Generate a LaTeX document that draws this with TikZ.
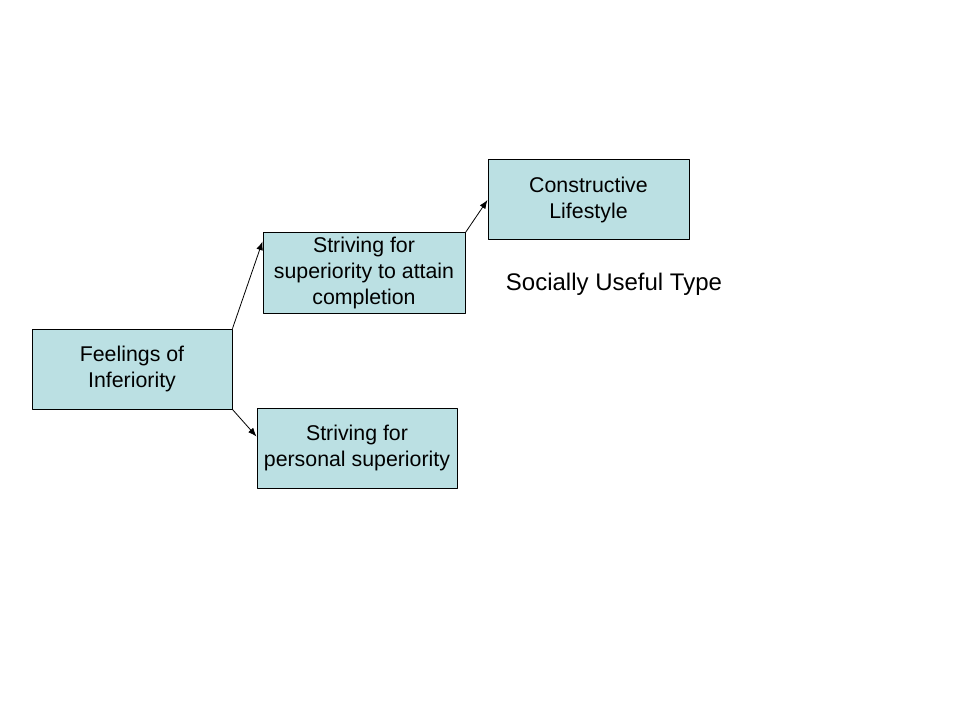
\documentclass[tikz,border=0pt]{standalone}
\usepackage{fontspec}
\setmainfont{Liberation Sans}
\usepackage{tikz}
\usetikzlibrary{arrows.meta}

\definecolor{boxfill}{HTML}{BBE0E3}
\tikzset{
  stepbox/.style={draw=black, fill=boxfill, line width=0.75pt, minimum height=60pt,
    inner sep=0pt, align=center, font=\fontsize{16}{19.5}\selectfont},
  link/.style={-{Latex[length=6.5pt,width=5pt]}, line width=0.6pt}
}

\begin{document}
\begin{tikzpicture}[line cap=round, line join=round, x=0.75pt, y=-0.75pt]
                \useasboundingbox (0,0) rectangle (960,720);
                \node[stepbox, minimum width=150pt] (feel) at (132,369) {Feelings of\\Inferiority};
                \node[stepbox, minimum width=151.5pt] (comp) at (364,273) {Striving for\\superiority to attain\\completion};
                \node[stepbox, minimum width=150pt] (pers) at (357,448) {Striving for\\personal superiority};
                \node[stepbox, minimum width=150.75pt] (cons) at (588.5,200) {Constructive\\Lifestyle};
                \node[font=\fontsize{18}{22}\selectfont] (type) at (614,284) {Socially Useful Type};
                \draw[link] (feel.north east) -- ([yshift=-6.75pt]comp.north west);
                \draw[link] (feel.south east) -- ([yshift=-21.75pt]pers.north west);
                \draw[link] (comp.north east) -- (cons.west);
            \end{tikzpicture}
\end{document}
